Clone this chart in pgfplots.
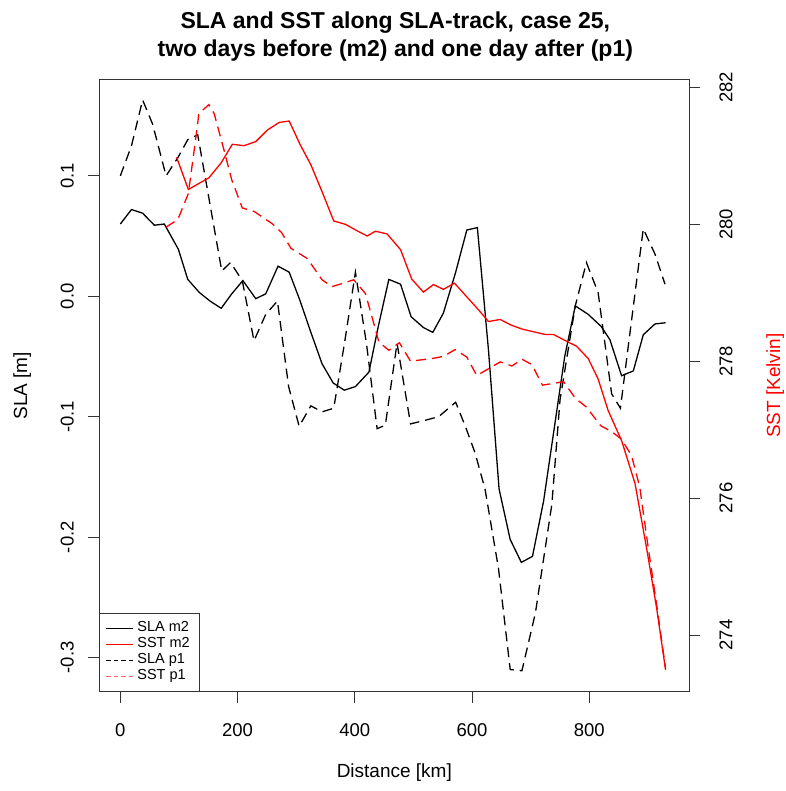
\documentclass[border=0pt]{standalone}
\usepackage{fontspec}
\setmainfont{Liberation Sans}
\usepackage{pgfplots}
\pgfplotsset{compat=1.18}

% SLA along track, two days before (m2) and one day after (p1)
\pgfplotstableread{
x y
0 0.060
19 0.072
38 0.069
58 0.059
75 0.060
99 0.039
115 0.014
135 0.003
153 -0.004
172 -0.010
190 0.002
209 0.013
231 -0.002
248 0.002
269 0.025
288 0.020
306 -0.003
325 -0.030
344 -0.056
363 -0.072
382 -0.078
401 -0.075
424 -0.063
440 -0.025
458 0.014
478 0.010
496 -0.017
517 -0.026
533 -0.030
551 -0.014
572 0.020
591 0.055
609 0.057
628 -0.045
646 -0.160
665 -0.202
684 -0.221
703 -0.216
722 -0.170
740 -0.110
758 -0.050
776 -0.008
798 -0.015
820 -0.025
835 -0.036
855 -0.066
875 -0.062
892 -0.032
912 -0.023
930 -0.022
}\slamtwo

\pgfplotstableread{
x y
0 0.100
19 0.125
38 0.163
55 0.143
78 0.100
98 0.115
115 0.130
132 0.134
173 0.021
188 0.028
208 0.013
228 -0.037
248 -0.015
268 -0.004
287 -0.075
305 -0.108
325 -0.091
344 -0.096
364 -0.093
382 -0.040
401 0.020
420 -0.040
438 -0.110
452 -0.107
472 -0.039
495 -0.106
520 -0.103
543 -0.100
572 -0.088
590 -0.110
605 -0.130
622 -0.160
645 -0.226
665 -0.310
685 -0.311
708 -0.263
736 -0.173
750 -0.086
776 -0.008
795 0.028
815 0.003
838 -0.081
853 -0.093
872 -0.020
892 0.056
912 0.035
929 0.010
}\slapone

% SST along track
\pgfplotstableread{
x y
96 280.98
116 280.51
151 280.68
172 280.90
191 281.17
211 281.15
231 281.21
251 281.38
271 281.49
288 281.51
307 281.16
325 280.87
343 280.50
364 280.05
384 280.00
403 279.91
421 279.83
435 279.90
455 279.86
478 279.63
497 279.20
517 279.01
534 279.12
551 279.05
570 279.14
591 278.94
611 278.75
628 278.58
648 278.61
666 278.53
685 278.47
705 278.43
725 278.39
739 278.39
759 278.30
778 278.22
798 278.04
815 277.74
832 277.28
855 276.84
878 276.21
898 275.25
915 274.38
930 273.49
}\sstmtwo

\pgfplotstableread{
x y
78 279.96
98 280.07
116 280.45
129 281.28
134 281.62
151 281.75
160 281.62
177 281.08
190 280.65
208 280.24
228 280.19
259 280.01
275 279.88
291 279.65
319 279.50
344 279.19
361 279.09
380 279.14
398 279.19
418 278.99
435 278.47
441 278.28
458 278.16
476 278.27
495 278.00
532 278.04
551 278.07
571 278.17
591 278.06
608 277.79
628 277.89
648 277.99
668 277.93
685 278.03
702 277.95
720 277.65
756 277.70
776 277.46
795 277.33
819 277.06
838 276.97
855 276.86
872 276.62
886 276.16
900 275.30
915 274.43
930 273.51
}\sstpone

\pgfplotsset{
  rplot/.style={
    width=589.7pt, height=611.7pt, scale only axis,
    xmin=-35.9, xmax=970,
    axis line style={line width=1pt, black!80},
    tick style={line width=0.8pt, black!80},
    tick align=outside, major tick length=11pt,
    ticklabel style={font=\fontsize{18.5}{22}\selectfont},
    /pgf/number format/assume math mode=true,
    /pgf/number format/fixed,
    /pgf/number format/precision=1,
    clip=true,
  },
}

\begin{document}
\begin{tikzpicture}
\path[use as bounding box] (-99.3pt,-99.3pt) rectangle (685.7pt,691.7pt);

\begin{axis}[rplot,
  ymin=-0.3284, ymax=0.1796,
  xtick={0,200,400,600,800},
  ytick={-0.3,-0.2,-0.1,0,0.1},
  yticklabels={-0.3,-0.2,-0.1,0.0,0.1},
  xticklabel shift=17pt,
  yticklabel style={rotate=90, anchor=south},
  yticklabel shift=11pt,
  xtick pos=bottom, ytick pos=left,
]
\addplot[black, line width=1.3pt] table {\slamtwo};
\addplot[black, line width=1.3pt, dash pattern=on 10pt off 6pt] table {\slapone};
\end{axis}

\begin{axis}[rplot,
  ymin=273.17, ymax=282.11,
  axis x line=none,
  axis y line*=right,
  ytick={274,276,278,280,282},
  /pgf/number format/precision=0,
  yticklabel style={rotate=90, anchor=north},
  yticklabel shift=16pt,
  legend style={at={(0,0)}, anchor=south west, draw=black!80, line width=0.8pt,
    font=\fontsize{14.5}{16}\selectfont, row sep=0pt,
    nodes={inner xsep=4pt, inner ysep=0.5pt, text height=11pt, text depth=4pt},
    inner xsep=6pt, inner ysep=7pt},
  legend cell align=left,
  legend image code/.code={\draw (0pt,0pt) -- (27pt,0pt);},
]
\addlegendimage{black, line width=0.7pt}
\addlegendentry{SLA m2}
\addlegendimage{red, line width=0.7pt}
\addlegendentry{SST m2}
\addlegendimage{black, line width=0.7pt, dash pattern=on 4.5pt off 3pt}
\addlegendentry{SLA p1}
\addlegendimage{red!60, line width=0.7pt, dash pattern=on 4.5pt off 3pt}
\addlegendentry{SST p1}
\addplot[red, line width=1.3pt, forget plot] table {\sstmtwo};
\addplot[red, line width=1.3pt, dash pattern=on 10pt off 6pt, forget plot] table {\sstpone};
\end{axis}

\node[font=\fontsize{23}{28}\selectfont\bfseries, align=center] at (296pt,655pt)
  {SLA and SST along SLA-track, case 25,\\two days before (m2) and one day after (p1)};
\node[font=\fontsize{19}{22}\selectfont] at (295pt,-81pt) {Distance [km]};
\node[font=\fontsize{19}{22}\selectfont, rotate=90] at (-77pt,306pt) {SLA [m]};
\node[font=\fontsize{19}{22}\selectfont, rotate=90, text=red] at (676pt,306pt) {SST [Kelvin]};
\end{tikzpicture}
\end{document}
